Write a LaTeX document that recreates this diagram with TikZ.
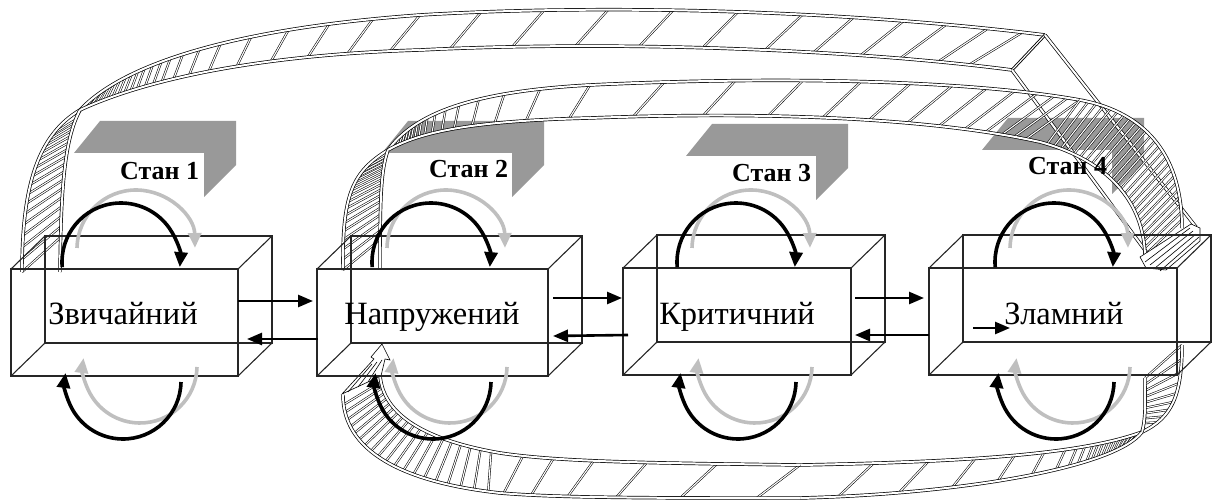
\documentclass[tikz,border=0pt]{standalone}
\usepackage{fontspec}
\setmainfont{Liberation Serif}
\usetikzlibrary{arrows.meta,calc}
\newcommand\rib[4]{%
  \foreach \t in {#3}{%
    \pgfmathsetmacro\tq{\t+(#4)}%
    \path #1 coordinate[pos=\t] (hp);
    \path #2 coordinate[pos=\tq] (hq);
    \draw[rhatch] (hp) -- (hq);
  }%
  \draw[redge] #1; \draw[redge] #2;
}
\newcommand\cub[1]{%
  \draw[boxline] ($(#1.north west)+(34,-33)$) rectangle ($(#1.south east)+(34,-33)$);
  \foreach \a in {north west,north east,south west,south east}
    \draw[boxline] (#1.\a) -- ($(#1.\a)+(34,-33)$);
}
\begin{document}
\begin{tikzpicture}[x=1pt,y=-1pt,
  boxline/.style={draw=black!85,line width=1.1pt},
  redge/.style={draw=black,line width=0.7pt,double=white,double distance=2pt},
  rhatch/.style={draw=black,line width=0.55pt,double=white,double distance=1.1pt},
  chev/.style={fill=black!40,draw=none},
  blk/.style={draw=black,line width=3.6pt,-{Triangle[length=15pt,width=13pt]}},
  gry/.style={draw=black!25,line width=3.6pt,-{Triangle[length=15pt,width=13pt]}},
  harr/.style={draw=black,line width=2.6pt,-{Triangle[length=15pt,width=12pt]}},
  face/.style={draw=black!85,line width=1.1pt,inner sep=0pt,outer sep=0pt,minimum height=107pt},
  lbl/.style={font=\fontsize{32.5}{32.5}\selectfont,anchor=base,inner sep=0pt},
  stan/.style={font=\fontsize{26}{26}\selectfont\bfseries,anchor=base west,inner sep=0pt},
  endcap/.style={draw=black,line width=0.6pt,fill=white},
]
\useasboundingbox (0,0) rectangle (1220,502);

% grey chevrons
\fill[chev] (100,121) -- (236,121) -- (236,165) -- (204,197) -- (204,153) -- (74,153) -- cycle;
\fill[chev,shift={(308,0)}] (100,121) -- (236,121) -- (236,165) -- (204,197) -- (204,153) -- (74,153) -- cycle;
\fill[chev,shift={(612,3)}] (100,121) -- (236,121) -- (236,165) -- (204,197) -- (204,153) -- (74,153) -- cycle;
\fill[chev,shift={(908,-3)}] (100,121) -- (236,121) -- (236,165) -- (204,197) -- (204,153) -- (74,153) -- cycle;

% ribbon A (box 1 -> box 4)
\rib{(22,272) .. controls (22,185) and (38,135) .. (80,110)}
    {(60,272) .. controls (61,190) and (64,140) .. (80,110)}
    {0,0.05,...,0.8}{0.15}
\rib{(80,110) .. controls (125,62) and (240,28) .. (420,15)}
    {(80,110) .. controls (140,82) and (250,55) .. (420,50)}
    {0.07,0.095,0.12,0.145,0.17,0.195,0.22,0.245,0.27,0.295,0.32,0.35,0.38,0.41,0.45,0.5,0.56,0.64,0.73,0.82,0.91,1.0}{-0.06}
\rib{(420,15) .. controls (620,3) and (860,12) .. (1045,35)}
    {(420,50) .. controls (620,40) and (860,50) .. (1012,70)}
    {0.1,0.2,0.3,0.4,0.5,0.6,0.68,0.76,0.83,0.9,0.96}{-0.05}
\draw[rhatch,line width=0.9pt] (1045,35) -- (1012,70);
\draw[redge] (1045,35) -- (1196,227);
\draw[redge] (1012,70) -- (1150,257);

% ribbon B (box 2 -> box 4)
\rib{(343,270) .. controls (342,195) and (352,172) .. (388,150)}
    {(380,270) .. controls (380,195) and (381,170) .. (388,150)}
    {0,0.05,...,0.8}{0.15}
\rib{(388,150) .. controls (412,118) and (460,92) .. (590,85)}
    {(388,150) .. controls (420,132) and (470,121) .. (590,118)}
    {0.07,0.095,0.12,0.145,0.17,0.195,0.22,0.245,0.27,0.3,0.33,0.37,0.42,0.48,0.55,0.64,0.74,0.86,1.0}{-0.06}
\rib{(590,85) .. controls (800,75) and (980,82) .. (1080,100)}
    {(590,118) .. controls (800,110) and (950,122) .. (1040,142)}
    {0.12,0.24,0.36,0.47,0.57,0.66,0.74,0.81,0.87,0.92,0.96,1.0}{-0.05}
\rib{(1080,100) .. controls (1150,113) and (1182,160) .. (1182,228)}
    {(1040,142) .. controls (1100,158) and (1143,195) .. (1145,255)}
    {0,0.04,...,0.96}{0.04}

% end cap at box 4
\draw[endcap] (1140,257) -- (1146,268) -- (1166,270) -- (1200,241) -- (1200,228) -- (1191,224) -- cycle;
\foreach \k in {0,1,2,3}
  \draw[line width=0.6pt] ($(1145,262)+(\k*5,3*\k)$) -- ($(1190,228)+(\k*3,3*\k)$);

% ribbon C (box 4 -> box 2)
\rib{(1182,345) .. controls (1182,395) and (1172,418) .. (1142,432)}
    {(1145,378) .. controls (1145,400) and (1146,418) .. (1142,432)}
    {0,0.1,...,0.9}{0}
\rib{(1142,432) .. controls (1080,455) and (960,462) .. (800,465)}
    {(1142,432) .. controls (1115,468) and (960,494) .. (800,498)}
    {0.02,0.04,0.06,0.08,0.1,0.12,0.14,0.16,0.18,0.2,0.22,0.25,0.28,0.32,0.39,0.48,0.59,0.71,0.84}{0.08}
\rib{(800,465) .. controls (650,463) and (560,462) .. (500,453)}
    {(800,498) .. controls (650,498) and (560,498) .. (500,493)}
    {0,0.2,0.4,0.58,0.74,0.88}{0.1}
\rib{(500,453) .. controls (425,440) and (383,415) .. (380,375)}
    {(500,493) .. controls (400,482) and (343,450) .. (343,395)}
    {0.04,0.09,...,0.96}{0}
% end cap at box 2
\draw[endcap] (342,394) -- (374,359) -- (371,357) -- (382,344) -- (390,360) -- (385,359) -- (381,376) -- cycle;
\foreach \k in {0,1,2}
  \draw[line width=0.6pt] ($(348,392)+(\k*10,-5*\k)$) -- ($(372,364)+(\k*5,-2*\k)$);

% boxes
\node[face,minimum width=227pt] (f1) at (124.5,322.5) {};
\node[face,minimum width=231pt] (f2) at (432.5,322.5) {};
\node[face,minimum width=228pt] (f3) at (737,321.5) {};
\node[face,minimum width=248pt] (f4) at (1053,321.5) {};
\cub{f1}\cub{f2}\cub{f3}\cub{f4}

% circular arrows
\foreach \ox in {0,310,615,933}{
  \begin{scope}[shift={(\ox,0)}]
    \draw[gry] (136,249) ++(181:59) arc[start angle=181,end angle=359,radius=59];
    \draw[blk] (121,262) ++(175:59) arc[start angle=175,end angle=365,radius=59];
    \draw[gry] (140,366) ++(1:57) arc[start angle=1,end angle=188,radius=57];
    \draw[blk] (123,381) ++(1:58) arc[start angle=1,end angle=188,radius=58];
  \end{scope}
}

% transitions
\draw[harr] ($(f1.east)+(0,-21.5)$) -- ($(f2.west)+(-4,-21.5)$);
\draw[harr] ($(f2.west)+(1,16.5)$) -- ($(f1.east)+(9,16.5)$);
\draw[harr] ($(f2.east)+(5,-24.5)$) -- ($(f3.west)+(-1,-23.5)$);
\draw[harr] ($(f3.west)+(5,13.5)$) -- ($(f2.east)+(5,13.5)$);
\draw[harr] ($(f3.east)+(4,-23.5)$) -- ($(f4.west)+(-5,-23.5)$);
\draw[harr] ($(f4.west)+(0,13.5)$) -- ($(f3.east)+(4,13.5)$);
\coordinate (z0) at ($(f4.west)+(44,6.5)$);
\coordinate (z1) at ($(f4.west)+(81,6.5)$);
\draw[harr] (z0) -- (z1);

% labels
\node[lbl] (t1) at (123,325) {Звичайний};
\node[lbl] (t2) at (432,325) {Напружений};
\node[lbl] (t3) at (737,325) {Критичний};
\node[lbl] (t4) at (1064,325) {Зламний};
\node[stan] (s1) at (120,180) {Стан 1};
\node[stan] (s2) at (429,178) {Стан 2};
\node[stan] (s3) at (732,182) {Стан 3};
\node[stan] (s4) at (1028,175) {Стан 4};
\end{tikzpicture}
\end{document}
